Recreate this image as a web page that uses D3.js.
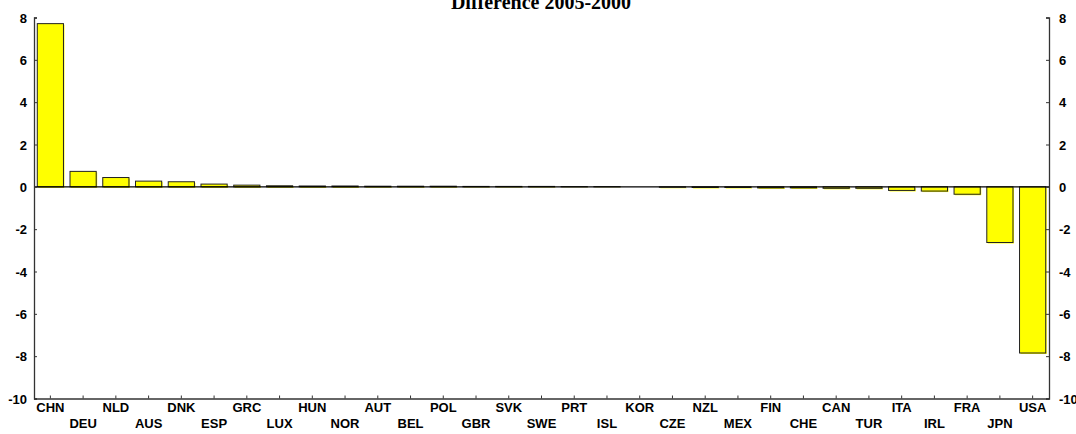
<!DOCTYPE html>
<html><head><meta charset="utf-8">
<script src="https://cdn.jsdelivr.net/npm/d3@7"></script>
<style>body{margin:0;background:#fff}</style>
</head><body>
<svg id="c" width="1076" height="434"></svg>
<script>
const categories = ["CHN","DEU","NLD","AUS","DNK","ESP","GRC","LUX","HUN","NOR","AUT","BEL","POL","GBR","SVK","SWE","PRT","ISL","KOR","CZE","NZL","MEX","FIN","CHE","CAN","TUR","ITA","IRL","FRA","JPN","USA"];
const values = [7.71,0.73,0.44,0.27,0.24,0.13,0.08,0.05,0.04,0.04,0.03,0.03,0.03,0.02,0.02,0.02,0.01,0.01,0.0,-0.02,-0.03,-0.03,-0.05,-0.05,-0.07,-0.07,-0.17,-0.2,-0.35,-2.63,-7.85];
const yTicks = [-10,-8,-6,-4,-2,0,2,4,6,8];
const title = "Difference 2005-2000";

const svg = d3.select("#c");
const L = 34, R = 1049, T = 17.5, B = 398.5;
const x = d3.scaleBand().domain(categories).range([L, R]).paddingInner(0.2).paddingOuter(0.1);
const y = d3.scaleLinear().domain([-10, 8]).range([B, T]);
const data = categories.map((c,i)=>({c, v: values[i]}));
const fmt = d => String(d);

// bars
const g = svg.append("g");
g.selectAll("rect.sh").data(data).join("rect")
  .attr("x", d=>x(d.c)+1).attr("width", x.bandwidth())
  .attr("y", d=>Math.min(y(d.v), y(0))+1).attr("height", d=>Math.abs(y(d.v)-y(0)))
  .attr("fill", "#ffff00");
g.selectAll("rect.b").data(data).join("rect")
  .attr("x", d=>x(d.c)).attr("width", x.bandwidth())
  .attr("y", d=>Math.min(y(d.v), y(0))).attr("height", d=>Math.abs(y(d.v)-y(0)))
  .attr("fill", "#ffff00").attr("stroke", "#222").attr("stroke-width", 1);

// zero line
svg.append("line").attr("x1", L).attr("x2", R).attr("y1", y(0)).attr("y2", y(0))
  .attr("stroke", "#000").attr("stroke-width", 1.2);

const font = "'Liberation Sans', Arial, sans-serif";
// left axis
const la = svg.append("g").attr("transform", `translate(${L},0)`)
  .call(d3.axisRight(y).tickValues(yTicks).tickSize(3).tickFormat(fmt));
la.selectAll("text").attr("x", -7).attr("text-anchor", "end");
// right axis
const ra = svg.append("g").attr("transform", `translate(${R},0)`)
  .call(d3.axisLeft(y).tickValues(yTicks).tickSize(3).tickFormat(fmt));
ra.selectAll("text").attr("x", 10).attr("text-anchor", "start");
// bottom axis
const xa = svg.append("g").attr("transform", `translate(0,${B})`)
  .call(d3.axisTop(x).tickSize(3).tickSizeOuter(0));
xa.selectAll("text").attr("y", (d,i)=> i%2===0 ? 13.5 : 29.5).attr("dy", null)
  .attr("dominant-baseline", "auto");
[la, ra, xa].forEach(a=>{
  a.select(".domain").attr("stroke", "#333").attr("stroke-width", 1.3);
  a.selectAll(".tick line").attr("stroke", "#333");
  a.selectAll("text").attr("font-family", font).attr("font-size", 13).attr("font-weight", "bold").attr("fill", "#000");
});
la.selectAll("text").attr("dy", "0.35em");
ra.selectAll("text").attr("dy", "0.35em");

svg.append("text").attr("x", 541).attr("y", 9).attr("text-anchor", "middle")
  .attr("font-family", "'Liberation Serif', 'Times New Roman', serif")
  .attr("font-weight", "bold").attr("font-size", 20).text(title);
</script>
</body></html>
